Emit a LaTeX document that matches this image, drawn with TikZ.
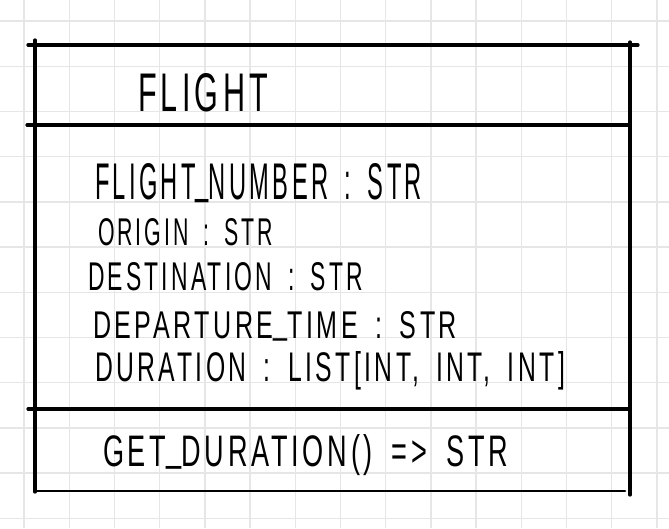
\documentclass[tikz,border=0pt]{standalone}
\usepackage{fontspec}
\usepackage{graphicx}
\setmainfont{Liberation Sans}[LetterSpace=14]
\definecolor{gridgray}{HTML}{E6E6E6}
\tikzset{
  gridline/.style={draw=gridgray, line width=1.4pt},
  boxline/.style={draw=black, line width=3.2pt, line cap=round},
  thinbox/.style={draw=black, line width=2.5pt, line cap=round},
  hand/.style={anchor=base west, inner sep=0pt, outer sep=0pt, text=black},
}
\newcommand{\fit}[3]{\resizebox{#1pt}{#2pt}{#3}}
\newcommand{\gap}{\hspace{0.7em}}
\newcommand{\us}{\raisebox{0.12em}{\_}}
\begin{document}
\begin{tikzpicture}[x=1pt,y=-1pt]
\useasboundingbox[fill=white] (0,0) rectangle (669,528);
% grid
\foreach \i in {0,...,14} {
  \draw[gridline] ({24+45.2*\i},0) -- ({24+45.2*\i},528);
}
\foreach \j in {0,...,11} {
  \draw[gridline] (0,{21+45.2*\j}) -- (669,{21+45.2*\j});
}
% box corners
\coordinate (tl) at (28,45);
\coordinate (tr) at (638,45);
\coordinate (lt) at (35,40);
\coordinate (lb) at (35,492);
\coordinate (rt) at (630,42);
\coordinate (rb) at (630,495);
\coordinate (s1l) at (27,125);
\coordinate (s1r) at (630,125);
\coordinate (s2l) at (28,409);
\coordinate (s2r) at (630,409);
\coordinate (bl) at (35,491);
\coordinate (br) at (625,491);
\draw[boxline] (tl) -- (tr);
\draw[boxline] (lt) -- (lb);
\draw[boxline] (rt) -- (rb);
\draw[boxline] (s1l) -- (s1r);
\draw[boxline] (s2l) -- (s2r);
\draw[thinbox] (bl) -- (br);
% texts
\node[hand] (title) at (138,111) {\fit{130}{38}{FLIGHT}};
\node[hand] (a1) at (95,199) {\fit{327}{36}{FLIGHT\us NUMBER\gap:\gap STR}};
\node[hand] (a2) at (98,245) {\fit{175}{27}{ORIGIN\gap:\gap STR}};
\node[hand] (a3) at (88,290) {\fit{275}{28}{DESTINATION\gap:\gap STR}};
\node[hand] (a4) at (93,338) {\fit{364}{27}{DEPARTURE\us TIME\gap:\gap STR}};
\node[hand] (a5) at (95,381) {\fit{470}{30}{DURATION\gap:\gap LIST[INT,\gap INT,\gap INT]}};
\node[hand] (m1) at (103,466) {\fit{405}{32}{GET\us DURATION()\gap=>\gap STR}};
\end{tikzpicture}
\end{document}
